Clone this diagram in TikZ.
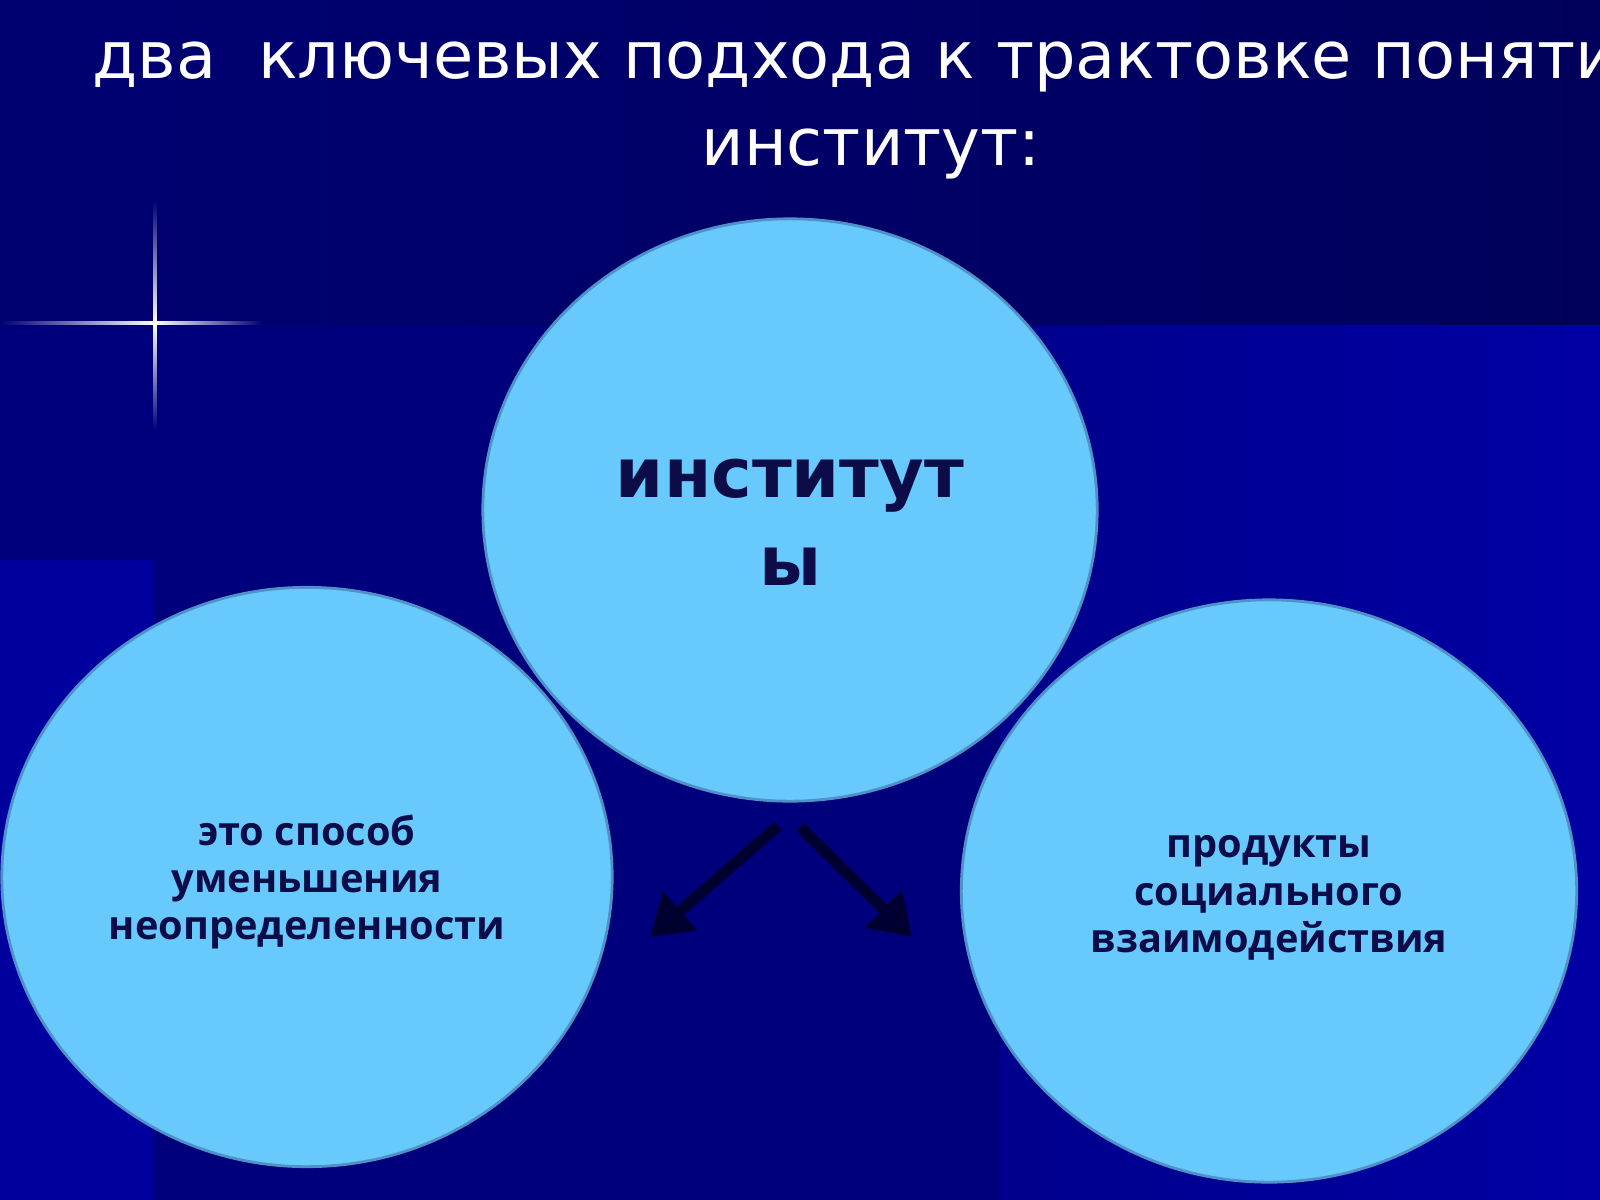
\documentclass[tikz,border=0pt]{standalone}
\usepackage{fontspec}
\setmainfont{DejaVu Sans}
\newfontfamily\bodyfont{Open Sans}
\usetikzlibrary{shapes.geometric,arrows.meta}
\definecolor{bgtopl}{HTML}{000072}
\definecolor{bgtopr}{HTML}{00005C}
\definecolor{bglow}{HTML}{00007C}
\definecolor{bgright}{HTML}{0000A4}
\definecolor{bgstrip}{HTML}{00009E}
\definecolor{glow}{HTML}{3C7CFF}
\definecolor{bubblefill}{HTML}{68CAFC}
\definecolor{bubbleedge}{HTML}{4F92C8}
\definecolor{inktext}{HTML}{0C0C48}
\definecolor{arrowcol}{HTML}{000030}

\begin{document}
\begin{tikzpicture}[x=0.01cm,y=-0.01cm,line cap=round,line join=round,
  bubble/.style={ellipse,fill=bubblefill,draw=bubbleedge,line width=0.8pt,inner sep=0pt},
  bubbletext/.style={align=center,text=inktext,inner sep=0pt},
  bigtext/.style={bubbletext,font=\bfseries\fontsize{19.5}{25}\selectfont},
  smalltext/.style={bubbletext,font=\bodyfont\bfseries\fontsize{11.3}{13.45}\selectfont},
  bigarrow/.style={draw=arrowcol,line width=3.2pt,line cap=butt,
    -{Triangle[length=0.40cm,width=0.50cm]}},
  titletext/.style={text=white,inner sep=0pt,font=\fontsize{18.6}{22}\selectfont}]
  \useasboundingbox (0,0) rectangle (1600,1200);
  \clip (0,0) rectangle (1600,1200);
  % background blocks
  \fill[bglow] (0,0) rectangle (1600,1200);
  \shade[left color=bgtopl,right color=bgtopr] (0,0) rectangle (1600,325);
  \shade[left color=bgright!85!black,right color=bgright] (1000,325) rectangle (1600,1200);
  \fill[bgstrip] (0,560) rectangle (153,1200);
  % star
  \shade[left color=bgtopl,middle color=glow,right color=white] (0,321.5) rectangle (155,324.5);
  \shade[left color=white,middle color=glow,right color=bgtopl] (155,321.5) rectangle (262,324.5);
  \shade[top color=bgtopl,middle color=glow,bottom color=white] (153.5,200) rectangle (156.5,323);
  \shade[top color=white,middle color=glow,bottom color=bglow] (153.5,323) rectangle (156.5,430);
  % title
  \node[titletext,anchor=base west] (title1) at (92,78)
    {два\ \ ключевых подхода к трактовке поняти};
  \node[titletext,anchor=base] (title2) at (871,165) {институт:};
  % circles
  \node[bubble,minimum width=6.14cm,minimum height=5.82cm] (inst) at (790,510) {};
  \node[bubble,minimum width=6.10cm,minimum height=5.79cm] (left) at (307,877) {};
  \node[bubble,minimum width=6.15cm,minimum height=5.82cm] (right) at (1269,891) {};
  \node[bigtext] (insttext) at ([yshift=-0.12cm]inst.center) {институт\\ы};
  \node[smalltext] (lefttext) at ([yshift=-0.05cm]left.center)
    {это способ\\уменьшения\\неопределенности};
  \node[smalltext] (righttext) at ([yshift=-0.07cm]right.center)
    {продукты\\социального\\взаимодействия};
  % arrows
  \coordinate (ltail) at (778,826);
  \coordinate (ltip) at (650,937);
  \coordinate (rtail) at (800,827);
  \coordinate (rtip) at (912,937);
  \draw[bigarrow] (ltail) -- (ltip);
  \draw[bigarrow] (rtail) -- (rtip);
\end{tikzpicture}
\end{document}
